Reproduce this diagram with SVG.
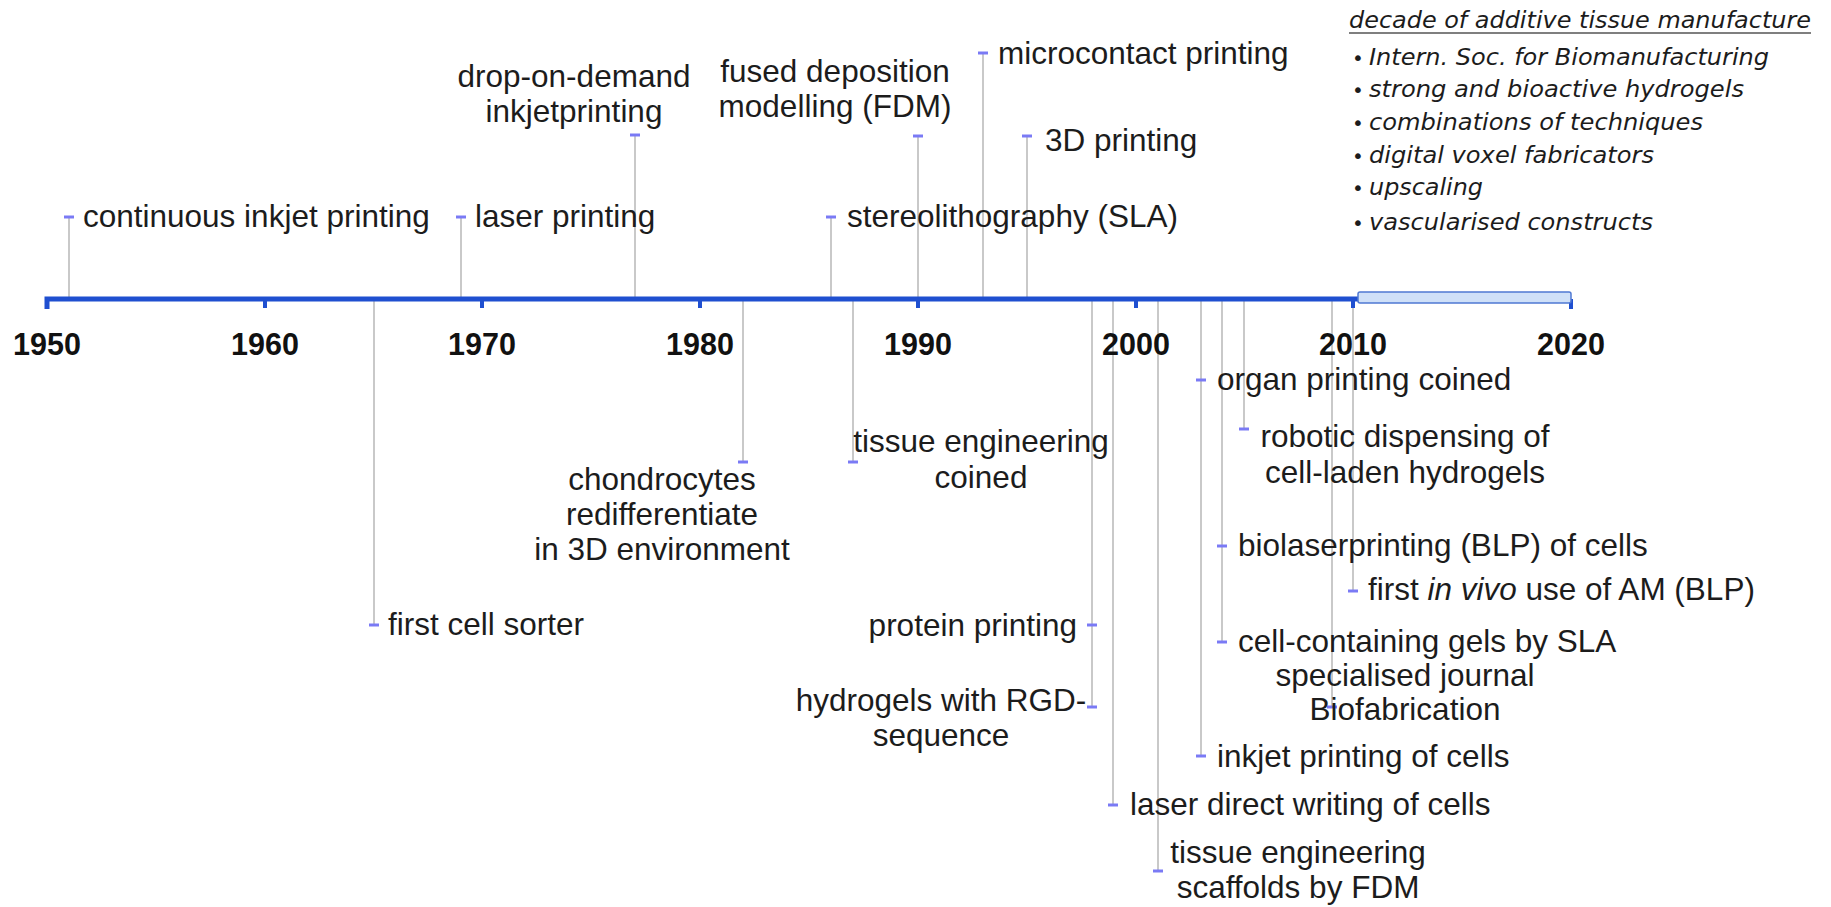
<svg xmlns="http://www.w3.org/2000/svg" width="1831" height="907" viewBox="0 0 1831 907">
<style>
.t{font-family:"Liberation Sans",Arial,sans-serif;font-size:31.5px;fill:#1c1c1c}
.c{text-anchor:middle}
.e{text-anchor:end}
.yr{font-family:"Liberation Sans",Arial,sans-serif;font-size:30.5px;font-weight:bold;fill:#111;text-anchor:middle}
.stem{stroke:#c9c9c9;stroke-width:2;fill:none}
.dash{stroke:#7a7af5;stroke-width:3}
.ax{stroke:#1f4fd0;fill:none}
.it{font-family:"DejaVu Sans",Verdana,sans-serif;font-style:italic;font-size:23.5px;fill:#1c1c1c}
.bu{font-family:"DejaVu Sans",Verdana,sans-serif;font-size:20px;fill:#1c1c1c}
</style>
<rect width="1831" height="907" fill="#fff"/>
<g id="connectors">
<line class="stem" x1="69" y1="217" x2="69" y2="297"/>
<line class="stem" x1="461" y1="217" x2="461" y2="297"/>
<line class="stem" x1="635" y1="135" x2="635" y2="297"/>
<line class="stem" x1="831" y1="217" x2="831" y2="297"/>
<line class="stem" x1="918" y1="136" x2="918" y2="297"/>
<line class="stem" x1="983" y1="53" x2="983" y2="297"/>
<line class="stem" x1="1027" y1="136" x2="1027" y2="297"/>
<line class="stem" x1="374" y1="301" x2="374" y2="625"/>
<line class="stem" x1="743" y1="301" x2="743" y2="462"/>
<line class="stem" x1="853" y1="301" x2="853" y2="462"/>
<line class="stem" x1="1092" y1="301" x2="1092" y2="707"/>
<line class="stem" x1="1113" y1="301" x2="1113" y2="805"/>
<line class="stem" x1="1158" y1="301" x2="1158" y2="871"/>
<line class="stem" x1="1201" y1="301" x2="1201" y2="756"/>
<line class="stem" x1="1222" y1="301" x2="1222" y2="642"/>
<line class="stem" x1="1244" y1="301" x2="1244" y2="429"/>
<line class="stem" x1="1332" y1="301" x2="1332" y2="707"/>
<line class="stem" x1="1353" y1="301" x2="1353" y2="591"/>
</g>
<g id="axis">
<path class="ax" stroke-width="5" d="M47,309 L47,299 L1360,299"/>
<g class="ax" stroke-width="4">
<line x1="265" y1="299" x2="265" y2="308"/>
<line x1="482" y1="299" x2="482" y2="308"/>
<line x1="700" y1="299" x2="700" y2="308"/>
<line x1="918" y1="299" x2="918" y2="308"/>
<line x1="1136" y1="299" x2="1136" y2="308"/>
<line x1="1353" y1="299" x2="1353" y2="308"/>
<line x1="1571" y1="299" x2="1571" y2="309"/>
</g>
<rect id="decade" x="1358" y="292" width="213" height="11" rx="2" fill="#cfe0f8" stroke="#4f78d2" stroke-width="1.5"/>
<text class="yr" x="47" y="355">1950</text>
<text class="yr" x="265" y="355">1960</text>
<text class="yr" x="482" y="355">1970</text>
<text class="yr" x="700" y="355">1980</text>
<text class="yr" x="918" y="355">1990</text>
<text class="yr" x="1136" y="355">2000</text>
<text class="yr" x="1353" y="355">2010</text>
<text class="yr" x="1571" y="355">2020</text>
</g>
<g id="ev-continuous-inkjet"><line class="dash" x1="64" y1="217" x2="74" y2="217"/><text class="t" x="83" y="227">continuous inkjet printing</text></g>
<g id="ev-laser-printing"><line class="dash" x1="456" y1="217" x2="466" y2="217"/><text class="t" x="475" y="227">laser printing</text></g>
<g id="ev-dod"><line class="dash" x1="630" y1="135" x2="640" y2="135"/><text class="t c" x="574" y="87">drop-on-demand</text><text class="t c" x="574" y="122">inkjetprinting</text></g>
<g id="ev-sla"><line class="dash" x1="826" y1="217" x2="836" y2="217"/><text class="t" x="847" y="227">stereolithography (SLA)</text></g>
<g id="ev-fdm"><line class="dash" x1="913" y1="136" x2="923" y2="136"/><text class="t c" x="835" y="82">fused deposition</text><text class="t c" x="835" y="117">modelling (FDM)</text></g>
<g id="ev-microcontact"><line class="dash" x1="978" y1="53" x2="988" y2="53"/><text class="t" x="998" y="64">microcontact printing</text></g>
<g id="ev-3d"><line class="dash" x1="1022" y1="136" x2="1032" y2="136"/><text class="t" x="1045" y="151">3D printing</text></g>
<g id="ev-cell-sorter"><line class="dash" x1="369" y1="625" x2="379" y2="625"/><text class="t" x="388" y="635">first cell sorter</text></g>
<g id="ev-chondrocytes"><line class="dash" x1="738" y1="462" x2="748" y2="462"/><text class="t c" x="662" y="490">chondrocytes</text><text class="t c" x="662" y="525">redifferentiate</text><text class="t c" x="662" y="560">in 3D environment</text></g>
<g id="ev-te-coined"><line class="dash" x1="848" y1="462" x2="858" y2="462"/><text class="t c" x="981" y="452">tissue engineering</text><text class="t c" x="981" y="488">coined</text></g>
<g id="ev-protein"><line class="dash" x1="1087" y1="625" x2="1097" y2="625"/><text class="t e" x="1077" y="636">protein printing</text></g>
<g id="ev-rgd"><line class="dash" x1="1087" y1="707" x2="1097" y2="707"/><text class="t c" x="941" y="711">hydrogels with RGD-</text><text class="t c" x="941" y="746">sequence</text></g>
<g id="ev-ldw"><line class="dash" x1="1108" y1="805" x2="1118" y2="805"/><text class="t" x="1130" y="815">laser direct writing of cells</text></g>
<g id="ev-te-fdm"><line class="dash" x1="1153" y1="871" x2="1163" y2="871"/><text class="t c" x="1298" y="863">tissue engineering</text><text class="t c" x="1298" y="898">scaffolds by FDM</text></g>
<g id="ev-inkjet-cells"><line class="dash" x1="1196" y1="756" x2="1206" y2="756"/><text class="t" x="1217" y="767">inkjet printing of cells</text></g>
<g id="ev-organ"><line class="dash" x1="1196" y1="380" x2="1206" y2="380"/><text class="t" x="1217" y="390">organ printing coined</text></g>
<g id="ev-robotic"><line class="dash" x1="1239" y1="429" x2="1249" y2="429"/><text class="t c" x="1405" y="447">robotic dispensing of</text><text class="t c" x="1405" y="483">cell-laden hydrogels</text></g>
<g id="ev-blp"><line class="dash" x1="1217" y1="546" x2="1227" y2="546"/><text class="t" x="1238" y="556">biolaserprinting (BLP) of cells</text></g>
<g id="ev-sla-gels"><line class="dash" x1="1217" y1="642" x2="1227" y2="642"/><text class="t" x="1238" y="652">cell-containing gels by SLA</text></g>
<g id="ev-journal"><line class="dash" x1="1327" y1="707" x2="1337" y2="707"/><text class="t c" x="1405" y="686">specialised journal</text><text class="t c" x="1405" y="720">Biofabrication</text></g>
<g id="ev-invivo"><line class="dash" x1="1348" y1="591" x2="1358" y2="591"/><text class="t" x="1368" y="600">first <tspan font-style="italic">in vivo</tspan> use of AM (BLP)</text></g>
<g id="decade-notes">
<text class="it" x="1349" y="28" textLength="462" lengthAdjust="spacingAndGlyphs">decade of additive tissue manufacture</text>
<line x1="1349" y1="33" x2="1811" y2="33" stroke="#555" stroke-width="1.5"/>
<text class="bu" x="1352" y="65">•</text><text class="it" x="1369" y="65" textLength="400" lengthAdjust="spacingAndGlyphs">Intern. Soc. for Biomanufacturing</text>
<text class="bu" x="1352" y="97">•</text><text class="it" x="1369" y="97" textLength="375" lengthAdjust="spacingAndGlyphs">strong and bioactive hydrogels</text>
<text class="bu" x="1352" y="130">•</text><text class="it" x="1369" y="130" textLength="334" lengthAdjust="spacingAndGlyphs">combinations of techniques</text>
<text class="bu" x="1352" y="163">•</text><text class="it" x="1369" y="163" textLength="285" lengthAdjust="spacingAndGlyphs">digital voxel fabricators</text>
<text class="bu" x="1352" y="195">•</text><text class="it" x="1369" y="195" textLength="114" lengthAdjust="spacingAndGlyphs">upscaling</text>
<text class="bu" x="1352" y="230">•</text><text class="it" x="1369" y="230" textLength="284" lengthAdjust="spacingAndGlyphs">vascularised constructs</text>
</g>
</svg>
